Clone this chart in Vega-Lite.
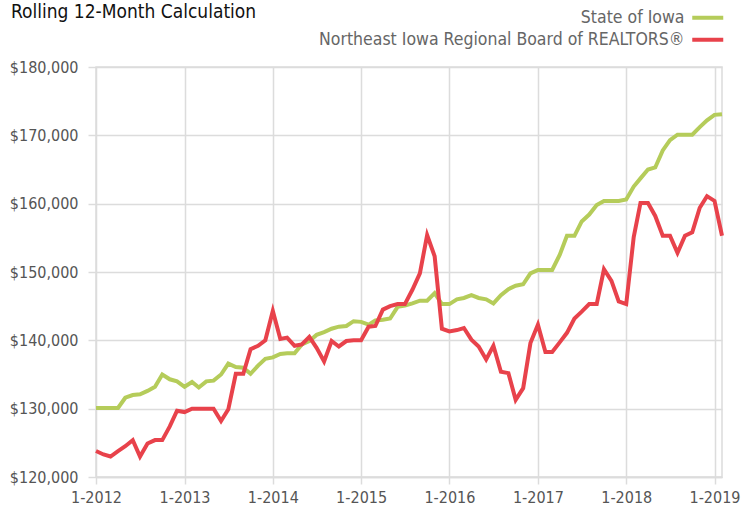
{
  "$schema": "https://vega.github.io/schema/vega-lite/v6.json",
  "width": 626,
  "height": 410,
  "autosize": "none",
  "padding": {"left": 96, "top": 67, "right": 31, "bottom": 33},
  "background": "white",
  "title": {
    "text": "Rolling 12-Month Calculation",
    "anchor": "start",
    "frame": "group",
    "dx": -85,
    "dy": 0,
    "offset": -28,
    "baseline": "alphabetic",
    "font": "DejaVu Sans Condensed, Roboto, sans-serif",
    "fontSize": 19,
    "fontWeight": "normal",
    "color": "#111"
  },
  "config": {
    "view": {"stroke": "#dcdcdc", "strokeWidth": 1.5},
    "axis": {
      "labelFont": "DejaVu Sans Condensed, Roboto, sans-serif",
      "labelColor": "#555",
      "gridColor": "#dcdcdc",
      "gridWidth": 1.5,
      "tickColor": "#dcdcdc",
      "tickWidth": 1.5,
      "domainColor": "#dcdcdc",
      "domainWidth": 1.5,
      "title": null
    }
  },
  "data": {
    "values": [
      {"date": "2012-01-01", "series": "State of Iowa", "value": 130100},
      {"date": "2012-02-01", "series": "State of Iowa", "value": 130100},
      {"date": "2012-03-01", "series": "State of Iowa", "value": 130100},
      {"date": "2012-04-01", "series": "State of Iowa", "value": 130100},
      {"date": "2012-05-01", "series": "State of Iowa", "value": 131600},
      {"date": "2012-06-01", "series": "State of Iowa", "value": 132000},
      {"date": "2012-07-01", "series": "State of Iowa", "value": 132100},
      {"date": "2012-08-01", "series": "State of Iowa", "value": 132600},
      {"date": "2012-09-01", "series": "State of Iowa", "value": 133200},
      {"date": "2012-10-01", "series": "State of Iowa", "value": 135000},
      {"date": "2012-11-01", "series": "State of Iowa", "value": 134300},
      {"date": "2012-12-01", "series": "State of Iowa", "value": 134000},
      {"date": "2013-01-01", "series": "State of Iowa", "value": 133200},
      {"date": "2013-02-01", "series": "State of Iowa", "value": 133900},
      {"date": "2013-03-01", "series": "State of Iowa", "value": 133100},
      {"date": "2013-04-01", "series": "State of Iowa", "value": 134000},
      {"date": "2013-05-01", "series": "State of Iowa", "value": 134100},
      {"date": "2013-06-01", "series": "State of Iowa", "value": 135000},
      {"date": "2013-07-01", "series": "State of Iowa", "value": 136600},
      {"date": "2013-08-01", "series": "State of Iowa", "value": 136100},
      {"date": "2013-09-01", "series": "State of Iowa", "value": 136000},
      {"date": "2013-10-01", "series": "State of Iowa", "value": 135100},
      {"date": "2013-11-01", "series": "State of Iowa", "value": 136300},
      {"date": "2013-12-01", "series": "State of Iowa", "value": 137300},
      {"date": "2014-01-01", "series": "State of Iowa", "value": 137500},
      {"date": "2014-02-01", "series": "State of Iowa", "value": 138000},
      {"date": "2014-03-01", "series": "State of Iowa", "value": 138100},
      {"date": "2014-04-01", "series": "State of Iowa", "value": 138100},
      {"date": "2014-05-01", "series": "State of Iowa", "value": 139400},
      {"date": "2014-06-01", "series": "State of Iowa", "value": 139900},
      {"date": "2014-07-01", "series": "State of Iowa", "value": 140800},
      {"date": "2014-08-01", "series": "State of Iowa", "value": 141200},
      {"date": "2014-09-01", "series": "State of Iowa", "value": 141700},
      {"date": "2014-10-01", "series": "State of Iowa", "value": 142000},
      {"date": "2014-11-01", "series": "State of Iowa", "value": 142100},
      {"date": "2014-12-01", "series": "State of Iowa", "value": 142800},
      {"date": "2015-01-01", "series": "State of Iowa", "value": 142700},
      {"date": "2015-02-01", "series": "State of Iowa", "value": 142300},
      {"date": "2015-03-01", "series": "State of Iowa", "value": 142900},
      {"date": "2015-04-01", "series": "State of Iowa", "value": 143000},
      {"date": "2015-05-01", "series": "State of Iowa", "value": 143200},
      {"date": "2015-06-01", "series": "State of Iowa", "value": 144900},
      {"date": "2015-07-01", "series": "State of Iowa", "value": 145100},
      {"date": "2015-08-01", "series": "State of Iowa", "value": 145400},
      {"date": "2015-09-01", "series": "State of Iowa", "value": 145800},
      {"date": "2015-10-01", "series": "State of Iowa", "value": 145800},
      {"date": "2015-11-01", "series": "State of Iowa", "value": 146900},
      {"date": "2015-12-01", "series": "State of Iowa", "value": 145300},
      {"date": "2016-01-01", "series": "State of Iowa", "value": 145300},
      {"date": "2016-02-01", "series": "State of Iowa", "value": 146000},
      {"date": "2016-03-01", "series": "State of Iowa", "value": 146200},
      {"date": "2016-04-01", "series": "State of Iowa", "value": 146600},
      {"date": "2016-05-01", "series": "State of Iowa", "value": 146200},
      {"date": "2016-06-01", "series": "State of Iowa", "value": 146000},
      {"date": "2016-07-01", "series": "State of Iowa", "value": 145400},
      {"date": "2016-08-01", "series": "State of Iowa", "value": 146600},
      {"date": "2016-09-01", "series": "State of Iowa", "value": 147500},
      {"date": "2016-10-01", "series": "State of Iowa", "value": 148000},
      {"date": "2016-11-01", "series": "State of Iowa", "value": 148200},
      {"date": "2016-12-01", "series": "State of Iowa", "value": 149800},
      {"date": "2017-01-01", "series": "State of Iowa", "value": 150300},
      {"date": "2017-02-01", "series": "State of Iowa", "value": 150300},
      {"date": "2017-03-01", "series": "State of Iowa", "value": 150300},
      {"date": "2017-04-01", "series": "State of Iowa", "value": 152500},
      {"date": "2017-05-01", "series": "State of Iowa", "value": 155300},
      {"date": "2017-06-01", "series": "State of Iowa", "value": 155300},
      {"date": "2017-07-01", "series": "State of Iowa", "value": 157400},
      {"date": "2017-08-01", "series": "State of Iowa", "value": 158400},
      {"date": "2017-09-01", "series": "State of Iowa", "value": 159800},
      {"date": "2017-10-01", "series": "State of Iowa", "value": 160400},
      {"date": "2017-11-01", "series": "State of Iowa", "value": 160400},
      {"date": "2017-12-01", "series": "State of Iowa", "value": 160400},
      {"date": "2018-01-01", "series": "State of Iowa", "value": 160600},
      {"date": "2018-02-01", "series": "State of Iowa", "value": 162500},
      {"date": "2018-03-01", "series": "State of Iowa", "value": 163700},
      {"date": "2018-04-01", "series": "State of Iowa", "value": 165000},
      {"date": "2018-05-01", "series": "State of Iowa", "value": 165300},
      {"date": "2018-06-01", "series": "State of Iowa", "value": 167800},
      {"date": "2018-07-01", "series": "State of Iowa", "value": 169300},
      {"date": "2018-08-01", "series": "State of Iowa", "value": 170100},
      {"date": "2018-09-01", "series": "State of Iowa", "value": 170100},
      {"date": "2018-10-01", "series": "State of Iowa", "value": 170100},
      {"date": "2018-11-01", "series": "State of Iowa", "value": 171200},
      {"date": "2018-12-01", "series": "State of Iowa", "value": 172200},
      {"date": "2019-01-01", "series": "State of Iowa", "value": 173000},
      {"date": "2019-02-01", "series": "State of Iowa", "value": 173100},
      {"date": "2012-01-01", "series": "Northeast Iowa Regional Board of REALTORS®", "value": 123800},
      {"date": "2012-02-01", "series": "Northeast Iowa Regional Board of REALTORS®", "value": 123300},
      {"date": "2012-03-01", "series": "Northeast Iowa Regional Board of REALTORS®", "value": 123000},
      {"date": "2012-04-01", "series": "Northeast Iowa Regional Board of REALTORS®", "value": 123800},
      {"date": "2012-05-01", "series": "Northeast Iowa Regional Board of REALTORS®", "value": 124500},
      {"date": "2012-06-01", "series": "Northeast Iowa Regional Board of REALTORS®", "value": 125400},
      {"date": "2012-07-01", "series": "Northeast Iowa Regional Board of REALTORS®", "value": 123000},
      {"date": "2012-08-01", "series": "Northeast Iowa Regional Board of REALTORS®", "value": 124900},
      {"date": "2012-09-01", "series": "Northeast Iowa Regional Board of REALTORS®", "value": 125400},
      {"date": "2012-10-01", "series": "Northeast Iowa Regional Board of REALTORS®", "value": 125400},
      {"date": "2012-11-01", "series": "Northeast Iowa Regional Board of REALTORS®", "value": 127400},
      {"date": "2012-12-01", "series": "Northeast Iowa Regional Board of REALTORS®", "value": 129700},
      {"date": "2013-01-01", "series": "Northeast Iowa Regional Board of REALTORS®", "value": 129500},
      {"date": "2013-02-01", "series": "Northeast Iowa Regional Board of REALTORS®", "value": 130000},
      {"date": "2013-03-01", "series": "Northeast Iowa Regional Board of REALTORS®", "value": 130000},
      {"date": "2013-04-01", "series": "Northeast Iowa Regional Board of REALTORS®", "value": 130000},
      {"date": "2013-05-01", "series": "Northeast Iowa Regional Board of REALTORS®", "value": 130000},
      {"date": "2013-06-01", "series": "Northeast Iowa Regional Board of REALTORS®", "value": 128200},
      {"date": "2013-07-01", "series": "Northeast Iowa Regional Board of REALTORS®", "value": 129900},
      {"date": "2013-08-01", "series": "Northeast Iowa Regional Board of REALTORS®", "value": 135100},
      {"date": "2013-09-01", "series": "Northeast Iowa Regional Board of REALTORS®", "value": 135100},
      {"date": "2013-10-01", "series": "Northeast Iowa Regional Board of REALTORS®", "value": 138700},
      {"date": "2013-11-01", "series": "Northeast Iowa Regional Board of REALTORS®", "value": 139200},
      {"date": "2013-12-01", "series": "Northeast Iowa Regional Board of REALTORS®", "value": 140000},
      {"date": "2014-01-01", "series": "Northeast Iowa Regional Board of REALTORS®", "value": 144300},
      {"date": "2014-02-01", "series": "Northeast Iowa Regional Board of REALTORS®", "value": 140200},
      {"date": "2014-03-01", "series": "Northeast Iowa Regional Board of REALTORS®", "value": 140400},
      {"date": "2014-04-01", "series": "Northeast Iowa Regional Board of REALTORS®", "value": 139200},
      {"date": "2014-05-01", "series": "Northeast Iowa Regional Board of REALTORS®", "value": 139400},
      {"date": "2014-06-01", "series": "Northeast Iowa Regional Board of REALTORS®", "value": 140500},
      {"date": "2014-07-01", "series": "Northeast Iowa Regional Board of REALTORS®", "value": 138900},
      {"date": "2014-08-01", "series": "Northeast Iowa Regional Board of REALTORS®", "value": 136900},
      {"date": "2014-09-01", "series": "Northeast Iowa Regional Board of REALTORS®", "value": 139900},
      {"date": "2014-10-01", "series": "Northeast Iowa Regional Board of REALTORS®", "value": 139100},
      {"date": "2014-11-01", "series": "Northeast Iowa Regional Board of REALTORS®", "value": 139900},
      {"date": "2014-12-01", "series": "Northeast Iowa Regional Board of REALTORS®", "value": 140000},
      {"date": "2015-01-01", "series": "Northeast Iowa Regional Board of REALTORS®", "value": 140000},
      {"date": "2015-02-01", "series": "Northeast Iowa Regional Board of REALTORS®", "value": 142000},
      {"date": "2015-03-01", "series": "Northeast Iowa Regional Board of REALTORS®", "value": 142100},
      {"date": "2015-04-01", "series": "Northeast Iowa Regional Board of REALTORS®", "value": 144500},
      {"date": "2015-05-01", "series": "Northeast Iowa Regional Board of REALTORS®", "value": 145000},
      {"date": "2015-06-01", "series": "Northeast Iowa Regional Board of REALTORS®", "value": 145300},
      {"date": "2015-07-01", "series": "Northeast Iowa Regional Board of REALTORS®", "value": 145300},
      {"date": "2015-08-01", "series": "Northeast Iowa Regional Board of REALTORS®", "value": 147400},
      {"date": "2015-09-01", "series": "Northeast Iowa Regional Board of REALTORS®", "value": 149800},
      {"date": "2015-10-01", "series": "Northeast Iowa Regional Board of REALTORS®", "value": 155400},
      {"date": "2015-11-01", "series": "Northeast Iowa Regional Board of REALTORS®", "value": 152300},
      {"date": "2015-12-01", "series": "Northeast Iowa Regional Board of REALTORS®", "value": 141700},
      {"date": "2016-01-01", "series": "Northeast Iowa Regional Board of REALTORS®", "value": 141300},
      {"date": "2016-02-01", "series": "Northeast Iowa Regional Board of REALTORS®", "value": 141500},
      {"date": "2016-03-01", "series": "Northeast Iowa Regional Board of REALTORS®", "value": 141800},
      {"date": "2016-04-01", "series": "Northeast Iowa Regional Board of REALTORS®", "value": 140100},
      {"date": "2016-05-01", "series": "Northeast Iowa Regional Board of REALTORS®", "value": 139100},
      {"date": "2016-06-01", "series": "Northeast Iowa Regional Board of REALTORS®", "value": 137200},
      {"date": "2016-07-01", "series": "Northeast Iowa Regional Board of REALTORS®", "value": 139200},
      {"date": "2016-08-01", "series": "Northeast Iowa Regional Board of REALTORS®", "value": 135400},
      {"date": "2016-09-01", "series": "Northeast Iowa Regional Board of REALTORS®", "value": 135200},
      {"date": "2016-10-01", "series": "Northeast Iowa Regional Board of REALTORS®", "value": 131300},
      {"date": "2016-11-01", "series": "Northeast Iowa Regional Board of REALTORS®", "value": 133000},
      {"date": "2016-12-01", "series": "Northeast Iowa Regional Board of REALTORS®", "value": 139600},
      {"date": "2017-01-01", "series": "Northeast Iowa Regional Board of REALTORS®", "value": 142300},
      {"date": "2017-02-01", "series": "Northeast Iowa Regional Board of REALTORS®", "value": 138300},
      {"date": "2017-03-01", "series": "Northeast Iowa Regional Board of REALTORS®", "value": 138300},
      {"date": "2017-04-01", "series": "Northeast Iowa Regional Board of REALTORS®", "value": 139700},
      {"date": "2017-05-01", "series": "Northeast Iowa Regional Board of REALTORS®", "value": 141100},
      {"date": "2017-06-01", "series": "Northeast Iowa Regional Board of REALTORS®", "value": 143200},
      {"date": "2017-07-01", "series": "Northeast Iowa Regional Board of REALTORS®", "value": 144200},
      {"date": "2017-08-01", "series": "Northeast Iowa Regional Board of REALTORS®", "value": 145300},
      {"date": "2017-09-01", "series": "Northeast Iowa Regional Board of REALTORS®", "value": 145300},
      {"date": "2017-10-01", "series": "Northeast Iowa Regional Board of REALTORS®", "value": 150400},
      {"date": "2017-11-01", "series": "Northeast Iowa Regional Board of REALTORS®", "value": 148700},
      {"date": "2017-12-01", "series": "Northeast Iowa Regional Board of REALTORS®", "value": 145700},
      {"date": "2018-01-01", "series": "Northeast Iowa Regional Board of REALTORS®", "value": 145300},
      {"date": "2018-02-01", "series": "Northeast Iowa Regional Board of REALTORS®", "value": 155100},
      {"date": "2018-03-01", "series": "Northeast Iowa Regional Board of REALTORS®", "value": 160100},
      {"date": "2018-04-01", "series": "Northeast Iowa Regional Board of REALTORS®", "value": 160100},
      {"date": "2018-05-01", "series": "Northeast Iowa Regional Board of REALTORS®", "value": 158200},
      {"date": "2018-06-01", "series": "Northeast Iowa Regional Board of REALTORS®", "value": 155300},
      {"date": "2018-07-01", "series": "Northeast Iowa Regional Board of REALTORS®", "value": 155300},
      {"date": "2018-08-01", "series": "Northeast Iowa Regional Board of REALTORS®", "value": 152800},
      {"date": "2018-09-01", "series": "Northeast Iowa Regional Board of REALTORS®", "value": 155300},
      {"date": "2018-10-01", "series": "Northeast Iowa Regional Board of REALTORS®", "value": 155800},
      {"date": "2018-11-01", "series": "Northeast Iowa Regional Board of REALTORS®", "value": 159400},
      {"date": "2018-12-01", "series": "Northeast Iowa Regional Board of REALTORS®", "value": 161100},
      {"date": "2019-01-01", "series": "Northeast Iowa Regional Board of REALTORS®", "value": 160400},
      {"date": "2019-02-01", "series": "Northeast Iowa Regional Board of REALTORS®", "value": 155300}
    ]
  },
  "mark": {"type": "line", "strokeWidth": 4, "strokeJoin": "miter", "clip": false},
  "encoding": {
    "x": {
      "field": "date",
      "type": "temporal",
      "scale": {"type": "utc", "domain": [{"year": 2012, "month": 1, "date": 1, "utc": true}, {"year": 2019, "month": 2, "date": 1, "utc": true}]},
      "axis": {
        "values": [
          {"year": 2012, "month": 1, "date": 1, "utc": true},
          {"year": 2013, "month": 1, "date": 1, "utc": true},
          {"year": 2014, "month": 1, "date": 1, "utc": true},
          {"year": 2015, "month": 1, "date": 1, "utc": true},
          {"year": 2016, "month": 1, "date": 1, "utc": true},
          {"year": 2017, "month": 1, "date": 1, "utc": true},
          {"year": 2018, "month": 1, "date": 1, "utc": true},
          {"year": 2019, "month": 1, "date": 1, "utc": true}
        ],
        "labelExpr": "utcFormat(datum.value, '%-m-%Y')",
        "labelFlush": false,
        "labelOverlap": false,
        "grid": true,
        "tickSize": 7,
        "labelPadding": 5,
        "labelFontSize": 16
      }
    },
    "y": {
      "field": "value",
      "type": "quantitative",
      "scale": {"domain": [120000, 180000], "zero": false},
      "axis": {
        "values": [120000, 130000, 140000, 150000, 160000, 170000, 180000],
        "format": "$,.0f",
        "domain": false,
        "tickSize": 8,
        "labelPadding": 10,
        "labelFontSize": 16
      }
    },
    "color": {
      "field": "series",
      "type": "nominal",
      "sort": null,
      "scale": {
        "domain": ["State of Iowa", "Northeast Iowa Regional Board of REALTORS®"],
        "range": ["#b5cc5a", "#e8424b"]
      },
      "legend": {
        "title": null,
        "orient": "none",
        "legendX": 603,
        "legendY": -58,
        "symbolType": "M-3.1,0H3.1",
        "symbolSize": 100,
        "symbolStrokeWidth": 4,
        "labelAlign": "right",
        "labelOffset": -32,
        "labelFont": "DejaVu Sans Condensed, Roboto, sans-serif",
        "labelFontSize": 17.5,
        "labelColor": "#666",
        "labelLimit": 0,
        "rowPadding": 3
      }
    }
  }
}
